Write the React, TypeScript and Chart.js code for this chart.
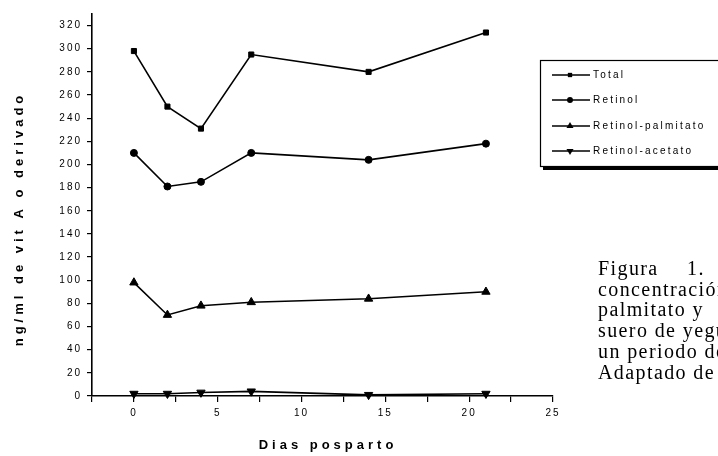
import React, { useEffect, useRef } from 'react';
import { Chart, registerables } from 'chart.js';

Chart.register(...registerables);

const DAYS = [0, 2, 4, 7, 14, 21];
const TOTAL = [298, 250, 231, 295, 280, 314];
const RETINOL = [210, 181, 185, 210, 204, 218];
const PALMITATO = [98, 70, 78, 81, 84, 90];
const ACETATO = [2, 2, 3, 4, 1, 2];
const SERIES_LABELS = ['Total', 'Retinol', 'Retinol-palmitato', 'Retinol-acetato'];
const X_TITLE = 'Dias posparto';
const Y_TITLE = 'ng/ml de vit A o derivado';
const CAPTION_LINES = ['concentración', 'palmitato y', 'suero de yeguas', 'un periodo de', 'Adaptado de'];

const SANS = '"Liberation Sans", Arial, sans-serif';

type Marker = { style: string; rotation: number; radius: number };
const MARKERS: Marker[] = [
  { style: 'rect', rotation: 0, radius: 3.6 },
  { style: 'circle', rotation: 0, radius: 3.5 },
  { style: 'triangle', rotation: 0, radius: 4.8 },
  { style: 'triangle', rotation: 180, radius: 4.8 },
];

function drawMarker(ctx: CanvasRenderingContext2D, m: Marker, x: number, y: number, r: number) {
  ctx.beginPath();
  if (m.style === 'rect') {
    const s = Math.SQRT1_2 * r;
    ctx.rect(x - s, y - s, 2 * s, 2 * s);
  } else if (m.style === 'circle') {
    ctx.arc(x, y, r, 0, Math.PI * 2);
  } else {
    const rot = (m.rotation * Math.PI) / 180;
    for (let i = 0; i < 3; i++) {
      const a = rot - Math.PI / 2 + (i * 2 * Math.PI) / 3;
      const px = x + Math.cos(a) * r;
      const py = y + Math.sin(a) * r;
      if (i === 0) ctx.moveTo(px, py);
      else ctx.lineTo(px, py);
    }
    ctx.closePath();
  }
  ctx.fill();
}

const overlayPlugin = {
  id: 'overlay',
  beforeDraw(chart: any) {
    chart.ctx.letterSpacing = '2px';
  },
  afterDraw(chart: any) {
    const ctx: CanvasRenderingContext2D = chart.ctx;
    ctx.save();
    ctx.fillStyle = '#000';
    ctx.strokeStyle = '#000';

    // X axis title
    ctx.font = `bold 13px ${SANS}`;
    (ctx as any).letterSpacing = '4px';
    ctx.textAlign = 'center';
    ctx.textBaseline = 'middle';
    ctx.fillText(X_TITLE, 328, 445);

    // Y axis title
    ctx.save();
    ctx.translate(19, 221);
    ctx.rotate(-Math.PI / 2);
    ctx.fillText(Y_TITLE, 2, 0);
    ctx.restore();

    // Legend box
    ctx.lineWidth = 1.2;
    ctx.strokeRect(540.5, 60.5, 200, 106);
    ctx.fillRect(543, 166, 180, 4);

    ctx.font = `10px ${SANS}`;
    (ctx as any).letterSpacing = '2.2px';
    ctx.textAlign = 'left';
    const rows = [75, 100, 126, 151];
    SERIES_LABELS.forEach((label, i) => {
      const y = rows[i];
      ctx.lineWidth = 1.5;
      ctx.beginPath();
      ctx.moveTo(552, y);
      ctx.lineTo(590, y);
      ctx.stroke();
      drawMarker(ctx, MARKERS[i], 570, y, MARKERS[i].radius * 0.85);
      ctx.fillText(label, 593, y + 0.5);
    });
    ctx.restore();
  },
};

function makeData(values: number[]) {
  return DAYS.map((d, i) => ({ x: d, y: values[i] }));
}

export default function App() {
  const ref = useRef<HTMLCanvasElement | null>(null);

  useEffect(() => {
    if (!ref.current) return;
    const seriesValues = [TOTAL, RETINOL, PALMITATO, ACETATO];
    const chart = new Chart(ref.current, {
      type: 'line',
      data: {
        datasets: seriesValues.map((vals, i) => ({
          label: SERIES_LABELS[i],
          data: makeData(vals),
          borderColor: '#000',
          backgroundColor: '#000',
          borderWidth: 1.6,
          pointStyle: MARKERS[i].style as any,
          pointRotation: MARKERS[i].rotation,
          pointRadius: MARKERS[i].radius,
          pointBackgroundColor: '#000',
          pointBorderColor: '#000',
          pointBorderWidth: 1,
          tension: 0,
          clip: false as any,
        })),
      },
      options: {
        animation: false,
        responsive: false,
        devicePixelRatio: 1,
        layout: { padding: { left: 0, top: 14, right: 165, bottom: 0 } },
        plugins: {
          legend: { display: false },
          tooltip: { enabled: false },
          title: { display: false },
        },
        scales: {
          x: {
            type: 'linear',
            min: -2.5,
            max: 25,
            afterFit: (s: any) => {
              s.height = 60;
            },
            ticks: {
              stepSize: 2.5,
              color: '#000',
              padding: 5,
              maxRotation: 0,
              font: { family: SANS, size: 10 },
              callback: (v: any) => (Number(v) >= 0 && Number(v) % 5 === 0 ? String(v) : ''),
            },
            grid: {
              drawOnChartArea: false,
              drawTicks: true,
              tickLength: 6,
              color: '#000',
              lineWidth: 1.2,
            },
            border: { display: true, color: '#000', width: 1.6 },
          },
          y: {
            type: 'linear',
            min: 0,
            max: 330,
            afterFit: (s: any) => {
              s.width = 92;
            },
            ticks: {
              stepSize: 10,
              color: '#000',
              padding: 5,
              font: { family: SANS, size: 10 },
              callback: (v: any) => (Number(v) % 20 === 0 ? String(v) : ''),
            },
            grid: {
              drawOnChartArea: false,
              drawTicks: true,
              tickLength: 5,
              color: '#000',
              lineWidth: 1.2,
            },
            border: { display: true, color: '#000', width: 1.6 },
          },
        },
      },
      plugins: [overlayPlugin],
    });
    return () => chart.destroy();
  }, []);

  return (
    <div style={{ position: 'fixed', left: 0, top: 0, width: 718, height: 456, overflow: 'hidden', background: '#fff' }}>
      <canvas ref={ref} width={718} height={456} style={{ position: 'absolute', left: 0, top: 0, width: 718, height: 456 }} />
      <div
        style={{
          position: 'absolute',
          left: 598,
          top: 258,
          width: 130,
          fontFamily: '"Liberation Serif", "Times New Roman", serif',
          fontSize: 20,
          lineHeight: '20.7px',
          letterSpacing: '1.4px',
          color: '#000',
          whiteSpace: 'nowrap',
        }}
      >
        <div style={{ wordSpacing: 22 }}>Figura 1.</div>
        {CAPTION_LINES.map((l, i) => (
          <div key={i}>{l}</div>
        ))}
      </div>
    </div>
  );
}
